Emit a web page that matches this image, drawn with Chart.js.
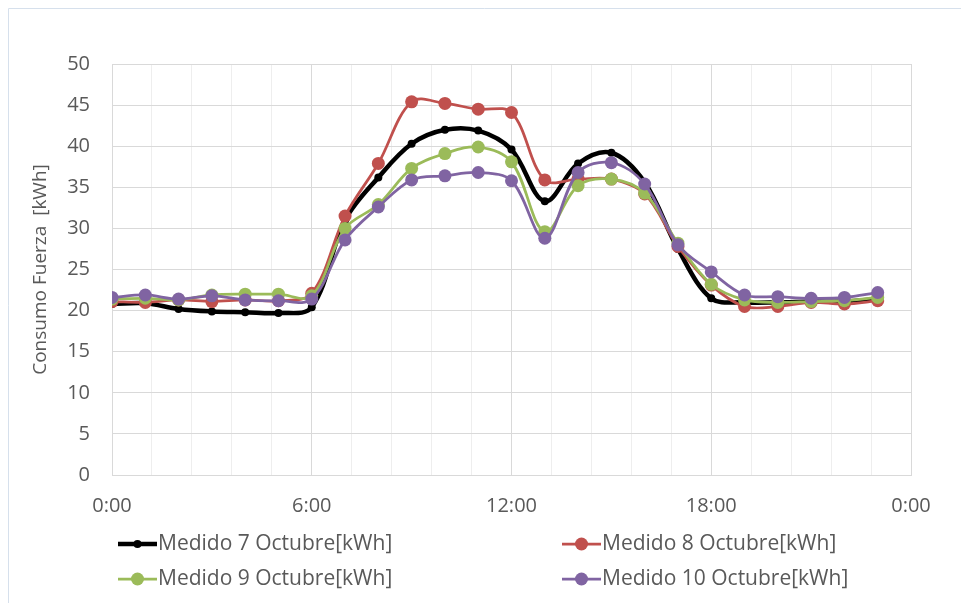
<!DOCTYPE html>
<html>
<head>
<meta charset="utf-8">
<script src="https://cdn.jsdelivr.net/npm/chart.js@4/dist/chart.umd.min.js"></script>
<style>
  html, body { margin: 0; padding: 0; background: #ffffff; }
  #wrap { width: 961px; height: 603px; }
</style>
</head>
<body>
<div id="wrap"><canvas id="myLineChart" width="961" height="603"></canvas></div>
<script>
// hourly readings, 0:00 .. 23:00
var hours = [0, 1, 2, 3, 4, 5, 6, 7, 8, 9, 10, 11, 12, 13, 14, 15, 16, 17, 18, 19, 20, 21, 22, 23];

var medido7 = [20.8, 20.9, 20.2, 19.9, 19.8, 19.7, 20.4, 31.0, 36.2, 40.3, 42.0, 41.9, 39.6, 33.3, 37.9, 39.2, 35.6, 27.5, 21.5, 21.0, 21.0, 21.1, 21.1, 21.4];
var medido8 = [21.1, 21.0, 21.3, 21.1, 21.3, 21.2, 22.1, 31.5, 37.9, 45.4, 45.2, 44.5, 44.1, 35.9, 36.0, 36.0, 34.2, 27.8, 23.1, 20.5, 20.5, 21.0, 20.8, 21.2];
var medido9 = [21.4, 21.5, 21.3, 21.9, 22.0, 22.0, 21.8, 30.0, 32.9, 37.3, 39.1, 39.9, 38.1, 29.6, 35.2, 36.0, 34.3, 28.2, 23.2, 21.3, 21.0, 21.1, 21.2, 21.6];
var medido10 = [21.6, 21.9, 21.4, 21.8, 21.3, 21.2, 21.4, 28.6, 32.6, 35.9, 36.4, 36.8, 35.8, 28.8, 36.8, 38.0, 35.4, 28.0, 24.7, 21.9, 21.7, 21.5, 21.6, 22.2];

var seriesLabels = ['Medido 7 Octubre[kWh]', 'Medido 8 Octubre[kWh]', 'Medido 9 Octubre[kWh]', 'Medido 10 Octubre[kWh]'];
var yTitle = 'Consumo Fuerza  [kWh]';

var FONT = '"Open Sans", sans-serif';
var TEXT = '#595959';

function points(values) {
    return hours.map(function (h, i) { return { x: h, y: values[i] }; });
}

function series(label, values, color, lineW, radius, order) {
    return {
        label: label,
        data: points(values),
        borderColor: color,
        backgroundColor: color,
        borderWidth: lineW,
        pointRadius: radius,
        pointHoverRadius: radius,
        pointBorderWidth: 0,
        tension: 0.35,
        order: order
    };
}

// Excel-style frame + two-column legend
var excelDecor = {
    id: 'excelDecor',
    beforeDraw: function (chart) {
        var c = chart.ctx;
        c.save();
        c.strokeStyle = '#d6e0ec';
        c.lineWidth = 1;
        c.beginPath();
        c.moveTo(8.5, 603);
        c.lineTo(8.5, 8.5);
        c.lineTo(961, 8.5);
        c.stroke();
        c.restore();
    },
    afterDraw: function (chart) {
        var c = chart.ctx;
        var spots = [[118, 544], [562, 544], [118, 579], [562, 579]];
        c.save();
        chart.data.datasets.forEach(function (ds, i) {
            var x = spots[i][0], y = spots[i][1];
            c.strokeStyle = ds.borderColor;
            c.lineWidth = ds.borderWidth;
            c.beginPath();
            c.moveTo(x, y);
            c.lineTo(x + 39, y);
            c.stroke();
            c.fillStyle = ds.borderColor;
            c.beginPath();
            c.arc(x + 19.5, y, ds.pointRadius, 0, Math.PI * 2);
            c.fill();
            c.fillStyle = TEXT;
            c.font = '21px ' + FONT;
            c.textBaseline = 'middle';
            c.textAlign = 'left';
            c.fillText(ds.label, x + 40, y);
        });
        c.restore();
    }
};

var ctx = document.getElementById('myLineChart');

var myLineChart = new Chart(ctx, {
    type: 'line',
    data: {
        datasets: [
            series(seriesLabels[0], medido7, '#000000', 4.5, 4, 3),
            series(seriesLabels[1], medido8, '#c0504d', 2.75, 6.5, 2),
            series(seriesLabels[2], medido9, '#9bbb59', 2.75, 6.5, 1),
            series(seriesLabels[3], medido10, '#8064a2', 2.75, 6.5, 0)
        ]
    },
    options: {
        responsive: false,
        animation: false,
        layout: { padding: { top: 64, right: 50, left: 0, bottom: 0 } },
        scales: {
            x: {
                type: 'linear',
                min: 0,
                max: 24,
                afterBuildTicks: function (axis) {
                    var t = [];
                    for (var k = 0; k <= 20; k++) t.push({ value: k * 1.2 });
                    axis.ticks = t;
                },
                afterFit: function (axis) { axis.height = 128; },
                grid: {
                    drawTicks: false,
                    color: function (c) {
                        var v = c.tick ? c.tick.value : 0;
                        return Math.abs(v / 6 - Math.round(v / 6)) < 1e-6 ? '#d9d9d9' : '#eeeeee';
                    }
                },
                border: { color: '#d9d9d9' },
                ticks: {
                    autoSkip: false,
                    maxRotation: 0,
                    padding: 19,
                    color: TEXT,
                    font: { family: FONT, size: 20 },
                    callback: function (v) {
                        if (Math.abs(v / 6 - Math.round(v / 6)) > 1e-6) return '';
                        return (Math.round(v) % 24) + ':00';
                    }
                }
            },
            y: {
                min: 0,
                max: 50,
                afterFit: function (axis) { axis.width = 112; },
                grid: { drawTicks: false, color: '#d9d9d9' },
                border: { color: '#d9d9d9' },
                ticks: {
                    stepSize: 5,
                    padding: 22,
                    color: TEXT,
                    font: { family: FONT, size: 20 }
                },
                title: {
                    display: true,
                    text: yTitle,
                    color: TEXT,
                    font: { family: FONT, size: 19 },
                    padding: { top: 29, bottom: 0 }
                }
            }
        },
        plugins: {
            legend: { display: false },
            tooltip: { enabled: false }
        }
    },
    plugins: [excelDecor]
});
</script>
</body>
</html>
